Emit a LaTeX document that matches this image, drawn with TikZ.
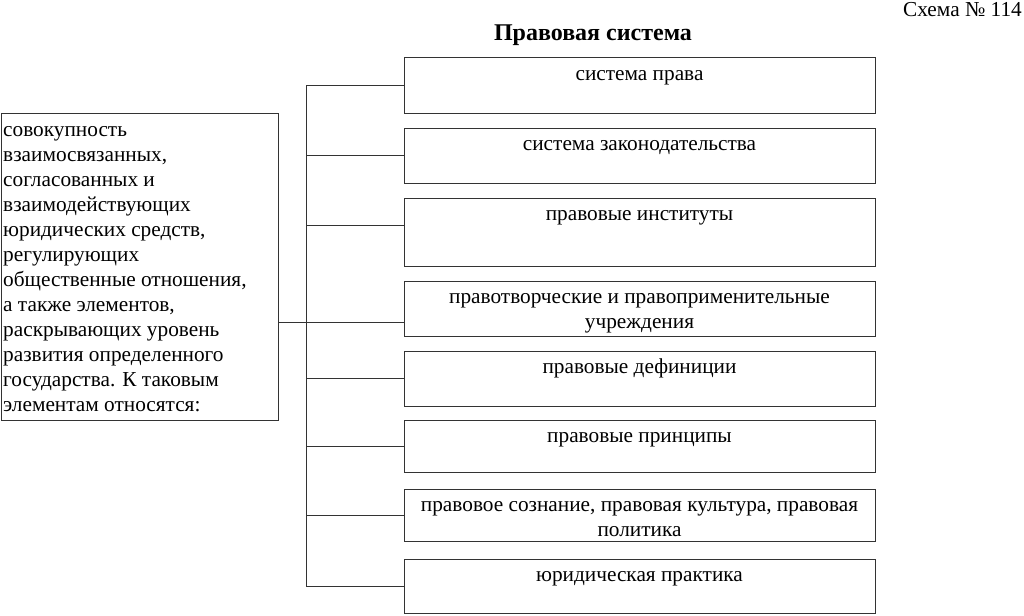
\documentclass[tikz,border=0pt]{standalone}
\usepackage{fontspec}
\setmainfont{Liberation Serif}
\usetikzlibrary{positioning}
\newcommand{\bodyfont}{\fontsize{21.3}{25}\selectfont}
\tikzset{
  box/.style={draw=black!80,line width=1pt,inner sep=0pt,outer sep=0pt},
  rbox/.style={box,minimum width=471pt},
  boxtext/.style={anchor=north,align=center,inner xsep=3pt,inner ysep=5pt,font=\bodyfont},
  link/.style={draw=black!80,line width=1pt},
}

\begin{document}
\begin{tikzpicture}[x=1pt,y=-1pt]
\useasboundingbox (0,0) rectangle (1024,615);
\node[anchor=north east,inner sep=0pt,font=\bodyfont] (schema) at (1022,2) {Схема № 114};
\node[font=\fontsize{24}{28}\selectfont\bfseries] (title) at (593,35) {Правовая система};
% definition on the left
\node[box,minimum width=277pt,minimum height=306pt] (def) at (139.5,267) {};
\node[anchor=north west,align=left,inner xsep=2pt,inner ysep=5pt,font=\bodyfont] (deftext) at (def.north west)
  {\strut совокупность\\ взаимосвязанных,\\ согласованных и\\ взаимодействующих\\ юридических средств,\\ регулирующих\\ общественные отношения,\\ а также элементов,\\ раскрывающих уровень\\ развития определенного\\ государства. К таковым\\ элементам относятся:};
% elements on the right
\node[rbox,minimum height=56pt] (pravo) at (639.5,86) {};
\node[rbox,minimum height=55pt,below=14pt of pravo] (zakon) {};
\node[rbox,minimum height=68pt,below=15pt of zakon] (inst) {};
\node[rbox,minimum height=55pt,below=15pt of inst] (uchr) {};
\node[rbox,minimum height=55pt,below=15pt of uchr] (defin) {};
\node[rbox,minimum height=52pt,below=14pt of defin] (princ) {};
\node[rbox,minimum height=52pt,below=17pt of princ] (soznan) {};
\node[rbox,minimum height=54pt,below=18pt of soznan] (praktika) {};
\node[boxtext] (pravo-t) at (pravo.north) {\strut система права};
\node[boxtext] (zakon-t) at (zakon.north) {\strut система законодательства};
\node[boxtext] (inst-t) at (inst.north) {\strut правовые институты};
\node[boxtext] (uchr-t) at (uchr.north) {\strut правотворческие и правоприменительные\\ учреждения};
\node[boxtext] (defin-t) at (defin.north) {\strut правовые дефиниции};
\node[boxtext] (princ-t) at (princ.north) {\strut правовые принципы};
\node[boxtext] (soznan-t) at (soznan.north) {\strut правовое сознание, правовая культура, правовая\\ политика};
\node[boxtext] (praktika-t) at (praktika.north) {\strut юридическая практика};
% connectors
\coordinate (trunk) at (306,0);
\draw[link] (pravo.west) -- (pravo.west -| trunk) -- (praktika.west -| trunk) -- (praktika.west);
\draw[link] (zakon.west) -- (zakon.west -| trunk);
\draw[link] ([yshift=7pt]inst.west) -- ([yshift=7pt]inst.west -| trunk);
\draw[link] (defin.west) -- (defin.west -| trunk);
\draw[link] (princ.west) -- (princ.west -| trunk);
\draw[link] (soznan.west) -- (soznan.west -| trunk);
\draw[link] ([yshift=-55pt]def.east) -- ([yshift=-13.5pt]uchr.west);
\end{tikzpicture}
\end{document}
